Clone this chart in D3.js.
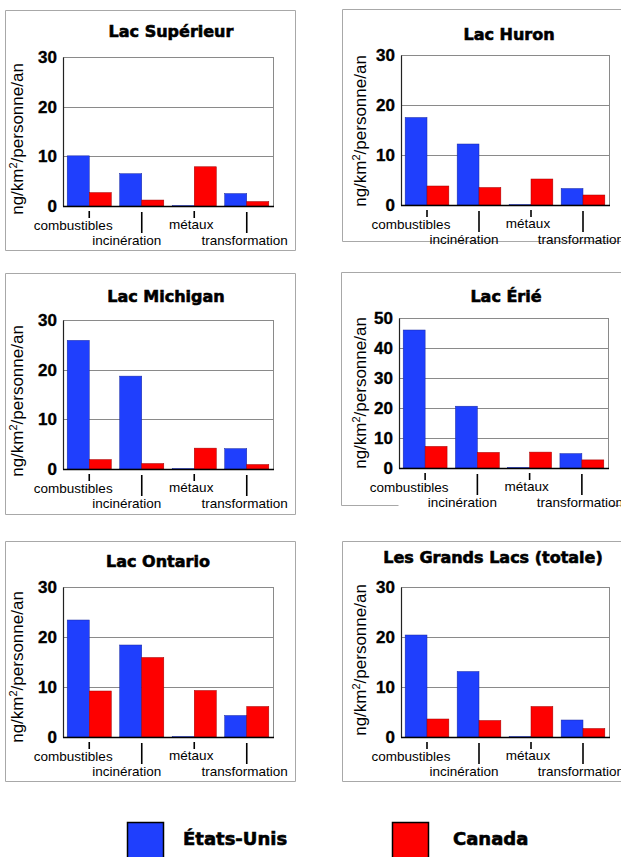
<!DOCTYPE html>
<html lang="fr">
<head>
<meta charset="utf-8">
<script src="https://cdn.jsdelivr.net/npm/d3@7"></script>
<style>
  html, body { margin: 0; padding: 0; background: #fff; }
  svg { display: block; }
</style>
</head>
<body>
<svg id="chart" width="621" height="857"></svg>
<script>
// Sources of emissions, per lake basin
const categories = ["combustibles", "incinération", "métaux", "transformation"];
const lakes = ["Lac Supérieur", "Lac Huron", "Lac Michigan", "Lac Érié", "Lac Ontario", "Les Grands Lacs (totale)"];
const seriesNames = ["États-Unis", "Canada"];

// ng/km²/personne/an, one row per lake, one column per category
const usValues = [
  [10.1, 6.5, 0.1, 2.5],
  [17.5, 12.2, 0.1, 3.3],
  [25.9, 18.7, 0.1, 4.1],
  [46.0, 20.6, 0.2, 4.8],
  [23.4, 18.4, 0.1, 4.3],
  [20.4, 13.1, 0.1, 3.4]
];
const canadaValues = [
  [2.7, 1.2, 7.9, 0.9],
  [3.8, 3.5, 5.2, 2.0],
  [1.9, 1.1, 4.2, 0.9],
  [7.2, 5.2, 5.3, 2.7],
  [9.2, 15.9, 9.3, 6.1],
  [3.6, 3.3, 6.1, 1.7]
];
const yMax = [30, 30, 30, 50, 30, 30];
const tickStep = 10;
const yAxisLabel = ["ng/km", "2", "/personne/an"];

const colors = ["#1f3ffd", "#fe0000"];

// Panel geometry: outer frame, plot area, title position and axis label centre
const layout = [
  { frame: [5, 10, 295, 250],   plot: [63, 57, 273, 206],   titleX: 171, titleY: 37,  labX: 23,  labY: 139 },
  { frame: [342, 9, 640, 241],  plot: [401, 55, 609, 205],  titleX: 509, titleY: 40,  labX: 366, labY: 131 },
  { frame: [5, 273, 295, 514],  plot: [63, 320, 273, 469],  titleX: 166, titleY: 302, labX: 23,  labY: 401 },
  { frame: [341, 272, 640, 505], plot: [399, 318, 608, 468], titleX: 506, titleY: 302, labX: 366, labY: 393, gap: [398, 610] },
  { frame: [5, 541, 295, 781],  plot: [63, 587, 273, 737],  titleX: 158, titleY: 567, labX: 23,  labY: 667 },
  { frame: [342, 541, 640, 781], plot: [401, 587, 609, 737], titleX: 493, titleY: 563, labX: 366, labY: 660 }
];

// Category label placement relative to its tick: horizontal shift, baseline drop, tick length
const labelShift = [-16, -15, -3, -2];
const labelDrop = [24, 39, 23, 39];
const tickLen = [[5, 12], [6, 27], [5, 12], [6, 27]];

const svg = d3.select("#chart");
const titleFont = "'DejaVu Sans', sans-serif";
const bodyFont = "'Liberation Sans', Arial, sans-serif";

lakes.forEach((lake, i) => {
  const L = layout[i];
  const [fx0, fy0, fx1, fy1] = L.frame;
  const [px0, py0, px1, py1] = L.plot;
  const g = svg.append("g");

  // outer frame
  const frameLines = [
    [fx0, fy0, fx1, fy0], [fx0, fy0, fx0, fy1], [fx1, fy0, fx1, fy1]
  ];
  if (L.gap) {
    frameLines.push([fx0, fy1, L.gap[0], fy1], [L.gap[1], fy1, fx1, fy1]);
  } else {
    frameLines.push([fx0, fy1, fx1, fy1]);
  }
  g.selectAll("line.frame").data(frameLines).join("line")
    .attr("class", "frame")
    .attr("x1", d => d[0] + 0.5).attr("y1", d => d[1] + 0.5)
    .attr("x2", d => d[2] + 0.5).attr("y2", d => d[3] + 0.5)
    .attr("stroke", "#a8a8a8").attr("stroke-width", 1);

  const x = d3.scaleBand().domain(categories).range([px0, px1])
    .paddingInner(0.16).paddingOuter(0.08);
  const xs = d3.scaleBand().domain(seriesNames).range([0, x.bandwidth()]);
  const y = d3.scaleLinear().domain([0, yMax[i]]).range([py1, py0]);
  const ticks = d3.range(0, yMax[i] + tickStep, tickStep);

  // grid lines
  g.selectAll("line.grid").data(ticks.filter(t => t > 0)).join("line")
    .attr("class", "grid")
    .attr("x1", px0).attr("x2", px1)
    .attr("y1", d => Math.round(y(d)) + 0.5).attr("y2", d => Math.round(y(d)) + 0.5)
    .attr("stroke", "#8a8a8a").attr("stroke-width", 1);
  // right border of plot area
  g.append("line")
    .attr("x1", px1 + 0.5).attr("x2", px1 + 0.5).attr("y1", py0).attr("y2", py1)
    .attr("stroke", "#8a8a8a").attr("stroke-width", 1);

  // bars
  const rows = categories.map((c, k) => ({ cat: c, vals: [usValues[i][k], canadaValues[i][k]] }));
  const grp = g.selectAll("g.cat").data(rows).join("g")
    .attr("class", "cat")
    .attr("transform", d => `translate(${x(d.cat)},0)`);
  grp.selectAll("rect").data(d => d.vals.map((v, s) => ({ v, s }))).join("rect")
    .attr("x", d => xs(seriesNames[d.s]))
    .attr("width", xs.bandwidth())
    .attr("y", d => y(d.v))
    .attr("height", d => Math.max(0.8, y(0) - y(d.v)))
    .attr("fill", d => colors[d.s])
    .attr("stroke", d => d.s === 0 ? "#1828a0" : "#a00000")
    .attr("stroke-width", 0.5);

  // y axis
  const yAxis = d3.axisLeft(y).tickValues(ticks).tickSize(0).tickPadding(6).tickFormat(d3.format("d"));
  const ya = g.append("g").attr("transform", `translate(${px0},0)`).call(yAxis);
  ya.select(".domain").attr("stroke", "#222").attr("stroke-width", 1.2);
  ya.selectAll("text")
    .attr("font-family", bodyFont).attr("font-weight", "bold")
    .attr("font-size", 17).attr("fill", "#000")
    .attr("stroke", "#000").attr("stroke-width", 0.35)
    .attr("dy", "0.33em");

  // x axis baseline
  g.append("line")
    .attr("x1", px0).attr("x2", px1 + 1)
    .attr("y1", py1 + 0.5).attr("y2", py1 + 0.5)
    .attr("stroke", "#000").attr("stroke-width", 1.6);

  // category ticks and labels
  categories.forEach((c, k) => {
    const cx = x(c) + x.bandwidth() / 2;
    g.append("line")
      .attr("x1", cx).attr("x2", cx)
      .attr("y1", py1 + tickLen[k][0]).attr("y2", py1 + tickLen[k][1])
      .attr("stroke", "#000").attr("stroke-width", 1.6);
    g.append("text")
      .attr("x", cx + labelShift[k]).attr("y", py1 + labelDrop[k])
      .attr("text-anchor", "middle")
      .attr("font-family", bodyFont).attr("font-size", 13.5).attr("fill", "#000")
      .text(c);
  });

  // title
  g.append("text")
    .attr("x", L.titleX).attr("y", L.titleY)
    .attr("text-anchor", "middle")
    .attr("font-family", titleFont).attr("font-weight", "bold")
    .attr("font-size", 16).attr("fill", "#000")
    .attr("stroke", "#000").attr("stroke-width", 0.6)
    .text(lake);

  // y axis label
  const lab = g.append("text")
    .attr("transform", `translate(${L.labX},${L.labY}) rotate(-90)`)
    .attr("text-anchor", "middle")
    .attr("font-family", bodyFont).attr("font-size", 17).attr("fill", "#000");
  lab.append("tspan").text(yAxisLabel[0]);
  lab.append("tspan").attr("font-size", 11).attr("dy", -6).text(yAxisLabel[1]);
  lab.append("tspan").attr("dy", 6).text(yAxisLabel[2]);
});

// legend
const legendPos = [[127, 183], [392, 453]];
seriesNames.forEach((name, s) => {
  const [bx, tx] = legendPos[s];
  svg.append("rect")
    .attr("x", bx + 0.5).attr("y", 822.5)
    .attr("width", 36).attr("height", 40)
    .attr("fill", colors[s]).attr("stroke", "#000").attr("stroke-width", 1.5);
  svg.append("text")
    .attr("x", tx).attr("y", 845)
    .attr("font-family", titleFont).attr("font-weight", "bold")
    .attr("font-size", 18).attr("fill", "#000")
    .attr("stroke", "#000").attr("stroke-width", 0.6)
    .text(name);
});
</script>
</body>
</html>
